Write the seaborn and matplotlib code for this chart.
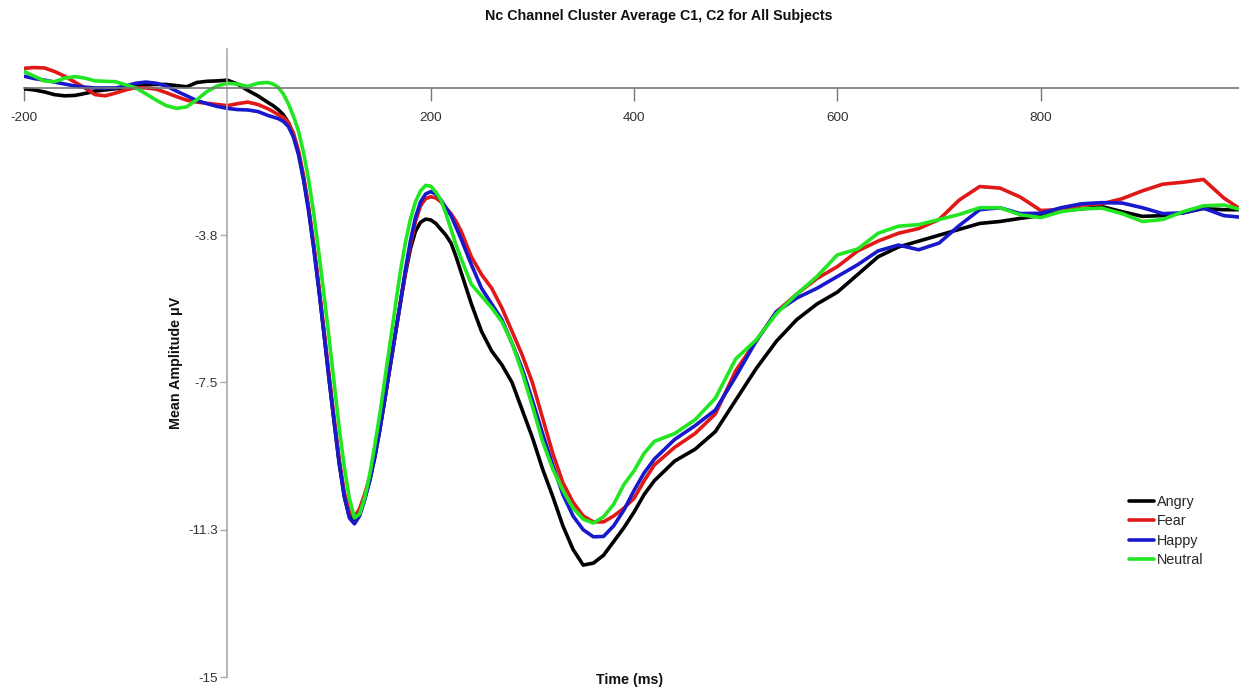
import numpy as np
import pandas as pd
import matplotlib
matplotlib.use("Agg")
import matplotlib.pyplot as plt
import seaborn as sns

# ---------------- data ----------------
time_ms = ([-200, -190, -180, -170, -160, -150, -140, -130, -120, -110, -100, -90, -80,
            -70, -60, -50, -40, -30, -20, -10, 0, 10, 20, 30, 40]
           + [45, 50, 55, 60, 65, 70, 75, 80, 85, 90, 95, 100, 105, 110, 115, 120, 125,
              130, 135, 140, 145, 150, 155, 160, 165, 170, 175, 180, 185, 190, 195, 200,
              205, 210, 215, 220, 225, 230]
           + [240, 250, 260, 270, 280, 290, 300, 310, 320, 330, 340, 350, 360, 370, 380,
              390, 400, 410, 420]
           + [440, 460, 480, 500, 520, 540, 560, 580, 600, 620, 640, 660, 680, 700, 720,
              740, 760, 780, 800, 820, 840, 860, 880, 900, 920, 940, 960, 980, 1000])

angry = ([-0.02, -0.05, -0.10, -0.17, -0.20, -0.19, -0.14, -0.08, -0.05, -0.02, 0.00, 0.05, 0.08,
          0.09, 0.09, 0.06, 0.03, 0.14, 0.17, 0.18, 0.20, 0.10, -0.06, -0.20, -0.37]
         + [-0.45, -0.55, -0.68, -0.88, -1.2, -1.65, -2.3, -3.1, -4.05, -5.1, -6.25, -7.4, -8.5,
            -9.55, -10.4, -10.9, -11.05, -10.85, -10.45, -10.0, -9.4, -8.7, -7.9, -7.1, -6.3, -5.5,
            -4.75, -4.1, -3.65, -3.42, -3.34, -3.36, -3.45, -3.6, -3.75, -3.95, -4.3, -4.7]
         + [-5.5, -6.2, -6.7, -7.05, -7.5, -8.2, -8.9, -9.7, -10.4, -11.15, -11.75, -12.15, -12.1,
            -11.9, -11.55, -11.2, -10.8, -10.35, -10.0]
         + [-9.5, -9.2, -8.75, -7.95, -7.15, -6.45, -5.9, -5.5, -5.2, -4.75, -4.3, -4.05, -3.9,
            -3.75, -3.6, -3.45, -3.4, -3.32, -3.25, -3.12, -3.08, -3.02, -3.15, -3.27, -3.25,
            -3.18, -3.07, -3.1, -3.1])

fear = ([0.50, 0.52, 0.51, 0.42, 0.30, 0.15, 0.00, -0.17, -0.20, -0.13, -0.05, 0.01, 0.00,
         -0.03, -0.12, -0.22, -0.31, -0.36, -0.39, -0.42, -0.45, -0.40, -0.36, -0.42, -0.53]
        + [-0.60, -0.68, -0.75, -0.88, -1.15, -1.6, -2.25, -3.05, -4.0, -5.05, -6.15, -7.3, -8.4,
           -9.45, -10.3, -10.8, -10.92, -10.72, -10.35, -9.9, -9.3, -8.65, -7.9, -7.1, -6.3, -5.5,
           -4.7, -4.0, -3.4, -3.0, -2.82, -2.77, -2.8, -2.9, -3.05, -3.2, -3.4, -3.65]
        + [-4.3, -4.75, -5.1, -5.6, -6.2, -6.8, -7.5, -8.4, -9.3, -10.05, -10.55, -10.9, -11.05,
           -11.05, -10.9, -10.7, -10.45, -10.0, -9.6]
        + [-9.15, -8.8, -8.3, -7.2, -6.45, -5.7, -5.25, -4.85, -4.55, -4.15, -3.9, -3.7, -3.58,
           -3.35, -2.85, -2.51, -2.55, -2.78, -3.12, -3.1, -2.98, -2.95, -2.82, -2.62, -2.45,
           -2.4, -2.33, -2.8, -3.15])

happy = ([0.30, 0.24, 0.20, 0.15, 0.10, 0.05, 0.02, 0.00, 0.00, 0.00, 0.05, 0.12, 0.15,
          0.12, 0.05, -0.08, -0.20, -0.32, -0.40, -0.47, -0.52, -0.55, -0.56, -0.60, -0.70]
         + [-0.74, -0.78, -0.85, -0.98, -1.25, -1.7, -2.35, -3.15, -4.1, -5.15, -6.25, -7.4, -8.5,
            -9.55, -10.4, -10.95, -11.1, -10.9, -10.5, -10.0, -9.4, -8.7, -7.9, -7.1, -6.3, -5.5,
            -4.65, -3.9, -3.3, -2.9, -2.7, -2.64, -2.7, -2.85, -3.05, -3.25, -3.55, -3.85]
         + [-4.5, -5.1, -5.5, -5.9, -6.5, -7.15, -7.95, -8.8, -9.6, -10.35, -10.9, -11.25, -11.43,
            -11.42, -11.15, -10.75, -10.25, -9.8, -9.45]
         + [-8.95, -8.6, -8.2, -7.35, -6.45, -5.7, -5.35, -5.1, -4.8, -4.5, -4.15, -4.0, -4.12,
            -3.95, -3.5, -3.1, -3.05, -3.2, -3.19, -3.05, -2.95, -2.92, -2.93, -3.05, -3.2,
            -3.18, -3.06, -3.25, -3.3])

neutral = ([0.42, 0.30, 0.18, 0.16, 0.25, 0.29, 0.25, 0.18, 0.17, 0.16, 0.08, 0.00, -0.15,
            -0.31, -0.45, -0.52, -0.48, -0.30, -0.09, 0.05, 0.12, 0.10, 0.04, 0.12, 0.14]
           + [0.10, 0.02, -0.15, -0.40, -0.72, -1.1, -1.65, -2.35, -3.2, -4.2, -5.25, -6.35, -7.5,
              -8.65, -9.65, -10.45, -10.95, -10.85, -10.45, -9.85, -9.1, -8.3, -7.4, -6.5, -5.6,
              -4.7, -3.95, -3.35, -2.9, -2.62, -2.48, -2.5, -2.65, -2.85, -3.2, -3.6, -4.0, -4.35]
           + [-5.0, -5.3, -5.6, -5.95, -6.5, -7.25, -8.1, -9.0, -9.7, -10.25, -10.7, -10.98, -11.08,
              -10.92, -10.6, -10.1, -9.75, -9.3, -9.0]
           + [-8.8, -8.45, -7.9, -6.9, -6.42, -5.75, -5.25, -4.8, -4.25, -4.1, -3.7, -3.52, -3.48,
              -3.35, -3.22, -3.05, -3.05, -3.23, -3.3, -3.15, -3.08, -3.06, -3.2, -3.4, -3.35,
              -3.15, -3.0, -2.98, -3.12])

conditions = ["Angry", "Fear", "Happy", "Neutral"]
colors = ["#000000", "#e01818", "#1818cc", "#22e622"]

x_ticks = [-200, 200, 400, 600, 800]
y_ticks = [-3.75, -7.5, -11.25, -15]
y_tick_labels = ["-3.8", "-7.5", "-11.3", "-15"]

title = "Nc Channel Cluster Average C1, C2 for All Subjects"
x_label = "Time (ms)"
y_label = "Mean Amplitude \u03bcV"

# ---------------- plot ----------------
sns.set_style("white")
plt.rcParams["font.family"] = ["Liberation Sans", "DejaVu Sans"]

W, H = 1239, 693
fig = plt.figure(figsize=(W / 100, H / 100), dpi=100)
ax_left, ax_right = 24, 1239
ax_bottom_px, ax_top_px = 677, 48.7
ax = fig.add_axes([ax_left / W, (H - ax_bottom_px) / H,
                   (ax_right - ax_left) / W, (ax_bottom_px - ax_top_px) / H])

series = {"Angry": angry, "Fear": fear, "Happy": happy, "Neutral": neutral}
for name, col in zip(conditions, colors):
    df = pd.DataFrame({"time": time_ms, "amp": series[name]})
    sns.lineplot(data=df, x="time", y="amp", color=col, linewidth=2.6,
                 estimator=None, sort=False, label=name, ax=ax,
                 solid_joinstyle="round", solid_capstyle="round")

ax.set_xlim(-200, 995)
ax.set_ylim(-15, 1)

ax.spines["top"].set_visible(False)
ax.spines["right"].set_visible(False)
ax.spines["left"].set_position(("data", 0))
ax.spines["bottom"].set_position(("data", 0))
ax.spines["left"].set_color("#aaaaaa")
ax.spines["bottom"].set_color("#777777")
ax.spines["left"].set_linewidth(1.2)
ax.spines["bottom"].set_linewidth(1.2)

ax.set_xticks(x_ticks)
ax.set_xticklabels([str(v) for v in x_ticks])
ax.set_yticks(y_ticks)
ax.set_yticklabels(y_tick_labels)
ax.tick_params(axis="x", direction="out", length=9, width=1, color="#777777",
               labelsize=9.7, labelcolor="#333333", pad=8, bottom=True)
ax.tick_params(axis="y", direction="out", length=5, width=1, color="#aaaaaa",
               labelsize=9.7, labelcolor="#333333", pad=2, left=True)
ax.set_xlabel("")
ax.set_ylabel("")
ax.grid(False)

leg = ax.legend(loc="center left", bbox_to_anchor=(1129 / W, (H - 531) / H),
                bbox_transform=fig.transFigure, frameon=False, fontsize=10.4,
                handlelength=1.75, handletextpad=0.2, labelspacing=0.36,
                borderpad=0, borderaxespad=0)
for lh in leg.get_lines():
    lh.set_linewidth(2.6)

fig.text(485 / W, 1 - 20 / H, title, ha="left", va="baseline",
         fontsize=10.3, fontweight="bold", color="#111111")
fig.text(176 / W, 1 - 363 / H, y_label, ha="center", va="center", rotation=90,
         fontsize=10.3, fontweight="bold", color="#111111")
fig.text(630 / W, 1 - 680 / H, x_label, ha="center", va="center",
         fontsize=10.3, fontweight="bold", color="#111111")

fig.savefig("out.png", dpi=100, facecolor="white")
